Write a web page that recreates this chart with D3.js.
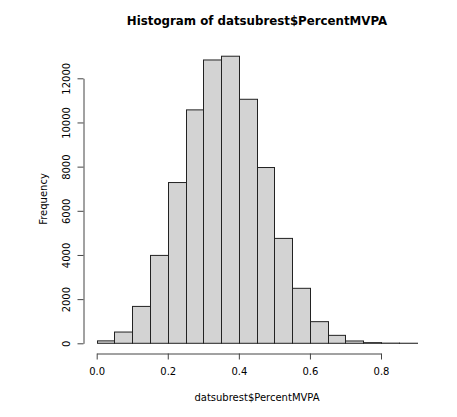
<!DOCTYPE html>
<html>
<head>
<meta charset="utf-8">
<script src="https://cdn.jsdelivr.net/npm/d3@7"></script>
<style>
  body { margin: 0; background: #fff; }
  text { font-family: "DejaVu Sans", sans-serif; fill: #000; }
</style>
</head>
<body>
<svg id="chart" width="457" height="417"></svg>
<script>
// histogram bins (breaks every 0.05 from 0 to 0.9)
const binStarts = [0, 0.05, 0.1, 0.15, 0.2, 0.25, 0.3, 0.35, 0.4, 0.45,
                   0.5, 0.55, 0.6, 0.65, 0.7, 0.75, 0.8, 0.85];
const binWidth = 0.05;
const counts = [110, 510, 1670, 3980, 7280, 10570, 12830, 13000, 11050, 7960,
                4750, 2490, 980, 360, 105, 30, 8, 3];
const xTicks = [0, 0.2, 0.4, 0.6, 0.8];
const yTicks = [0, 2000, 4000, 6000, 8000, 10000, 12000];

const title = "Histogram of datsubrest$PercentMVPA";
const xLabel = "datsubrest$PercentMVPA";
const yLabel = "Frequency";

const svg = d3.select("#chart");

const x = d3.scaleLinear().domain([0, 0.8]).range([96.7, 381]);
const y = d3.scaleLinear().domain([0, 12000]).range([343.3, 78.3]);

const axisX = 83.5, axisY = 353.5;

svg.append("rect").attr("width", 457).attr("height", 417).attr("fill", "#fff");

// bars
svg.append("g")
  .selectAll("rect")
  .data(binStarts)
  .join("rect")
  .attr("x", (d) => Math.round(x(d)) + 0.5)
  .attr("y", (d, i) => y(counts[i]))
  .attr("width", (d) => Math.round(x(d + binWidth)) - Math.round(x(d)))
  .attr("height", (d, i) => y(0) - y(counts[i]))
  .attr("fill", "#d3d3d3")
  .attr("stroke", "#222")
  .attr("stroke-width", 1);

// x axis
const gx = svg.append("g")
  .attr("transform", `translate(0,${axisY})`)
  .call(d3.axisBottom(x).tickValues(xTicks).tickFormat(d3.format(".1f"))
    .tickSize(6).tickSizeOuter(0).tickPadding(8));
gx.select(".domain").attr("stroke", "#444");
gx.selectAll(".tick line").attr("stroke", "#444");
gx.selectAll("text").attr("font-size", 10).attr("fill", "#000");

// y axis
const gy = svg.append("g")
  .attr("transform", `translate(${axisX},0)`)
  .call(d3.axisLeft(y).tickValues(yTicks).tickFormat(d3.format("d"))
    .tickSize(6).tickSizeOuter(0));
gy.select(".domain").attr("stroke", "#444");
gy.selectAll(".tick line").attr("stroke", "#444");
gy.selectAll("text")
  .attr("font-size", 10)
  .attr("fill", "#000")
  .attr("transform", "rotate(-90)")
  .attr("x", 0)
  .attr("y", -14)
  .attr("dy", 0)
  .attr("text-anchor", "middle");

// titles
svg.append("text")
  .attr("x", 257).attr("y", 25)
  .attr("text-anchor", "middle")
  .attr("font-size", 11.8)
  .attr("font-weight", "bold")
  .text(title);

svg.append("text")
  .attr("x", 257).attr("y", 401)
  .attr("text-anchor", "middle")
  .attr("font-size", 10)
  .text(xLabel);

svg.append("text")
  .attr("transform", `translate(47,199) rotate(-90)`)
  .attr("text-anchor", "middle")
  .attr("font-size", 10)
  .text(yLabel);
</script>
</body>
</html>
